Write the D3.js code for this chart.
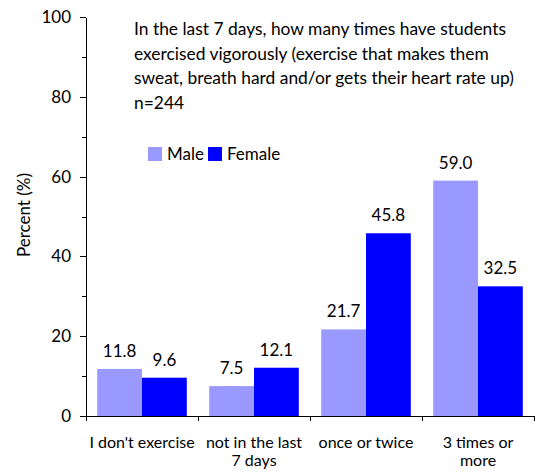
<!DOCTYPE html>
<meta charset="utf-8">
<style>
body { margin: 0; background: #fff; }
text { font-family: "Lato", "Open Sans", sans-serif; fill: #000; }
.axis path, .axis line { stroke: #000; shape-rendering: crispEdges; }
.axis text { font-size: 17px; }
</style>
<svg width="541" height="473"></svg>
<script src="https://d3js.org/d3.v7.min.js"></script>
<script>

var categories = ["I don't exercise", "not in the last|7 days", "once or twice", "3 times or|more"];
var seriesNames = ["Male", "Female"];
var maleValues = [11.8, 7.5, 21.7, 59.0];
var femaleValues = [9.6, 12.1, 45.8, 32.5];
var yTicks = [0, 20, 40, 60, 80, 100];
var titleLines = [
  "In the last 7 days, how many times have students",
  "exercised vigorously (exercise that makes them",
  "sweat, breath hard and/or gets their heart rate up)",
  "n=244"
];
var colors = ["#9999ff", "#0000ff"];

var svg = d3.select("svg"),
    margin = {top: 17, right: 7, bottom: 57, left: 86},
    width = +svg.attr("width") - margin.left - margin.right,
    height = +svg.attr("height") - margin.top - margin.bottom;

var g = svg.append("g")
    .attr("transform", "translate(" + margin.left + "," + margin.top + ")");

var x0 = d3.scaleBand().domain(categories).range([0, width]).paddingInner(0.2).paddingOuter(0.1);
var x1 = d3.scaleBand().domain(seriesNames).range([0, x0.bandwidth()]);
var y = d3.scaleLinear().domain([0, 100]).range([height, 0]);

var data = categories.map(function(c, i) {
  return {cat: c, vals: [maleValues[i], femaleValues[i]]};
});

// minor ticks
g.append("g")
    .attr("class", "axis")
    .call(d3.axisLeft(y).tickValues(d3.range(10, 100, 20)).tickSize(4).tickFormat(""))
    .call(function(s) { s.select(".domain").remove(); });

g.append("g")
    .attr("class", "axis axis--y")
    .call(d3.axisLeft(y).tickValues(yTicks).tickSize(6).tickPadding(9).tickSizeOuter(0));

// x axis with ticks between categories
var step = x0.step();
var xa = g.append("g")
    .attr("class", "axis axis--x")
    .attr("transform", "translate(0," + height + ")");
xa.append("line").attr("x1", 0).attr("x2", width).attr("y1", 0).attr("y2", 0);
xa.selectAll(".sep")
  .data(d3.range(categories.length + 1))
  .enter().append("line")
    .attr("x1", function(i) { return x0(categories[0]) - x0.step() * x0.paddingInner() / 2 + i * step; })
    .attr("x2", function(i) { return x0(categories[0]) - x0.step() * x0.paddingInner() / 2 + i * step; })
    .attr("y1", 0).attr("y2", 5);

xa.selectAll(".xl")
  .data(categories)
  .enter().append("text")
    .attr("text-anchor", "middle")
    .style("font-size", "16px")
    .attr("transform", function(d) { return "translate(" + (x0(d) + x0.bandwidth() / 2) + ",32)"; })
    .selectAll("tspan")
    .data(function(d) { return d.split("|"); })
    .enter().append("tspan")
      .attr("x", 0)
      .attr("dy", function(d, i) { return i ? 18 : 0; })
      .text(function(d) { return d; });

var grp = g.selectAll(".grp")
  .data(data)
  .enter().append("g")
    .attr("transform", function(d) { return "translate(" + x0(d.cat) + ",0)"; });

grp.selectAll("rect")
  .data(function(d) { return d.vals; })
  .enter().append("rect")
    .attr("x", function(d, i) { return x1(seriesNames[i]); })
    .attr("y", function(d) { return y(d); })
    .attr("width", x1.bandwidth())
    .attr("height", function(d) { return height - y(d); })
    .attr("fill", function(d, i) { return colors[i]; });

grp.selectAll(".val")
  .data(function(d) { return d.vals; })
  .enter().append("text")
    .attr("text-anchor", "middle")
    .style("font-size", "17px")
    .attr("x", function(d, i) { return x1(seriesNames[i]) + x1.bandwidth() / 2; })
    .attr("y", function(d) { return y(d) - 12; })
    .text(function(d) { return d.toFixed(1); });

// y label
svg.append("text")
    .attr("transform", "translate(30,215) rotate(-90)")
    .attr("text-anchor", "middle")
    .style("font-size", "17px")
    .text("Percent (%)");

// title
svg.append("g").selectAll("text")
  .data(titleLines)
  .enter().append("text")
    .attr("x", 134)
    .attr("y", function(d, i) { return 35 + i * 24.5; })
    .style("font-size", "17.4px")
    .text(function(d) { return d; });

// legend
var leg = svg.append("g").attr("transform", "translate(148,147)");
var legX = [0, 60];
var li = leg.selectAll("g")
  .data(seriesNames)
  .enter().append("g")
    .attr("transform", function(d, i) { return "translate(" + legX[i] + ",0)"; });
li.append("rect").attr("width", 14).attr("height", 14).attr("fill", function(d, i) { return colors[i]; });
li.append("text").attr("x", 19).attr("y", 13).style("font-size", "17px").text(function(d) { return d; });

</script>
